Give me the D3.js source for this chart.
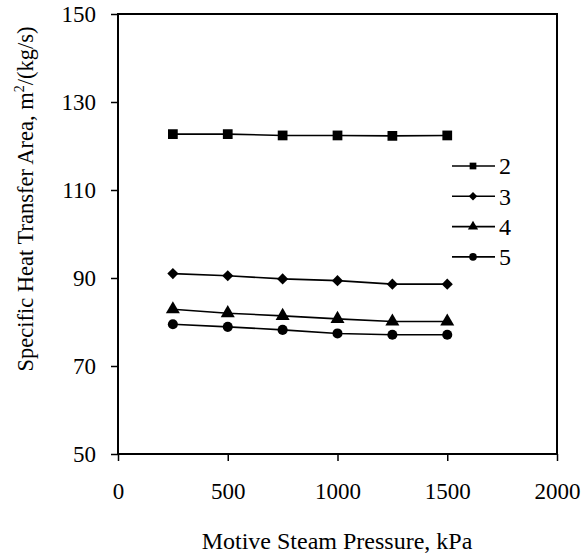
<!DOCTYPE html>
<html>
<head>
<meta charset="utf-8">
<script src="https://cdn.jsdelivr.net/npm/d3@7"></script>
<style>
  body { margin: 0; background: #fff; }
  svg text { font-family: "Liberation Serif", "Times New Roman", serif; fill: #000; }
</style>
</head>
<body>
<svg id="chart" width="583" height="559"></svg>
<script>
var pressure = [250, 500, 750, 1000, 1250, 1500];
var series2 = [122.7, 122.7, 122.4, 122.4, 122.3, 122.4];
var series3 = [91.0, 90.5, 89.8, 89.4, 88.6, 88.6];
var series4 = [82.9, 82.0, 81.4, 80.7, 80.1, 80.1];
var series5 = [79.5, 78.9, 78.2, 77.4, 77.1, 77.1];
var seriesNames = ["2", "3", "4", "5"];
var xTicks = [0, 500, 1000, 1500, 2000];
var yTicks = [50, 70, 90, 110, 130, 150];

var svg = d3.select("svg#chart"),
    margin = {left: 118, top: 14, right: 26, bottom: 105},
    width = 583 - margin.left - margin.right,
    height = 559 - margin.top - margin.bottom,
    g = svg.append("g").attr("transform", "translate(" + margin.left + "," + margin.top + ")");

var x = d3.scaleLinear().domain([0, 2000]).range([0, width]);
var y = d3.scaleLinear().domain([50, 150]).range([height, 0]);

// frame
g.append("rect")
    .attr("width", width).attr("height", height)
    .attr("fill", "none").attr("stroke", "#000").attr("stroke-width", 2);

var xAxis = g.append("g")
    .attr("transform", "translate(0," + height + ")")
    .call(d3.axisBottom(x).tickValues(xTicks).tickSize(7).tickPadding(22).tickFormat(d3.format("d")));

var yAxis = g.append("g")
    .call(d3.axisLeft(y).tickValues(yTicks).tickSize(7).tickPadding(15).tickFormat(d3.format("d")));

[xAxis, yAxis].forEach(function(a) {
  a.select(".domain").remove();
  a.selectAll("line").attr("stroke", "#000").attr("stroke-width", 1.5);
  a.selectAll("text").attr("font-size", 23).attr("font-family", "Liberation Serif").attr("fill", "#000");
});

// diamonds drawn as squares turned 45 degrees
var symbols = [d3.symbolSquare, d3.symbolSquare, d3.symbolTriangle, d3.symbolCircle];
var rotations = [0, 45, 0, 0];
var sizes = [95, 62, 85, 80];
var legendSizes = [45, 36, 45, 45];
var allSeries = [series2, series3, series4, series5];

var line = d3.line()
    .x(function(d, i) { return x(pressure[i]); })
    .y(function(d) { return y(d); });

allSeries.forEach(function(vals, k) {
  g.append("path")
      .datum(vals)
      .attr("d", line)
      .attr("fill", "none")
      .attr("stroke", "#000")
      .attr("stroke-width", 1.6);

  g.selectAll(".pt" + k)
    .data(vals)
    .enter().append("path")
      .attr("class", "pt" + k)
      .attr("transform", function(d, i) {
        return "translate(" + x(pressure[i]) + "," + y(d) + ") rotate(" + rotations[k] + ")";
      })
      .attr("d", d3.symbol().type(symbols[k]).size(sizes[k]))
      .attr("fill", "#000");
});

// legend
var legend = svg.append("g").attr("transform", "translate(452,166)");
seriesNames.forEach(function(name, k) {
  var row = legend.append("g").attr("transform", "translate(0," + (k * 30.3) + ")");
  row.append("line").attr("x1", 0).attr("x2", 43).attr("stroke", "#000").attr("stroke-width", 1.6);
  row.append("path")
      .attr("transform", "translate(21,0) rotate(" + rotations[k] + ")")
      .attr("d", d3.symbol().type(symbols[k]).size(legendSizes[k]))
      .attr("fill", "#000");
  row.append("text")
      .attr("x", 47).attr("dy", "0.35em")
      .attr("font-size", 24)
      .text(name);
});

// axis titles
svg.append("text")
    .attr("x", 337).attr("y", 549)
    .attr("text-anchor", "middle")
    .attr("font-size", 24)
    .text("Motive Steam Pressure, kPa");

var yt = svg.append("text")
    .attr("transform", "translate(33,199) rotate(-90)")
    .attr("text-anchor", "middle")
    .attr("font-size", 22.5);
yt.append("tspan").text("Specific Heat Transfer Area, m");
yt.append("tspan").attr("dy", -9).attr("font-size", 14).text("2");
yt.append("tspan").attr("dy", 9).text("/(kg/s)");
</script>
</body>
</html>
